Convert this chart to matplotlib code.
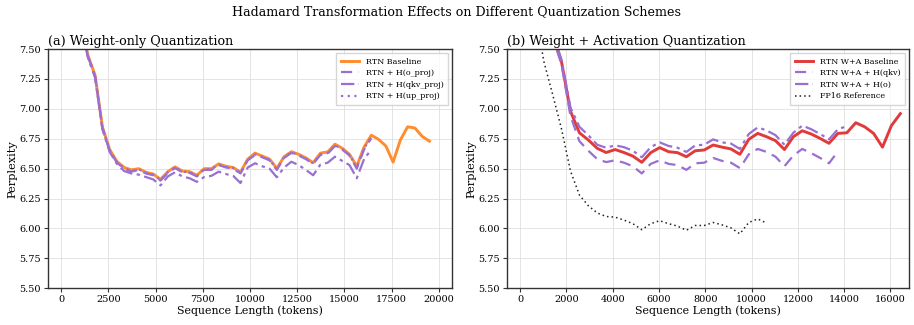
import matplotlib
matplotlib.use('Agg')
import matplotlib.pyplot as plt

plt.rcParams['font.family'] = 'DejaVu Serif'

# sequence lengths (tokens), shared x grid
seq_len = [642, 1027, 1412, 1797, 2182, 2567, 2952, 3337, 3722, 4107, 4492, 4877,
           5262, 5647, 6032, 6417, 6802, 7187, 7572, 7957, 8342, 8727, 9112, 9497,
           9882, 10267, 10652, 11037, 11422, 11807, 12192, 12577, 12962, 13347,
           13732, 14117, 14502, 14887, 15272, 15657, 16042, 16427, 16812, 17197,
           17582, 17967, 18352, 18737, 19122, 19507]

# (a) weight-only
rtn_base = [7.75, 7.45, 7.28, 6.85, 6.66, 6.56, 6.51, 6.49, 6.50, 6.47, 6.455, 6.41,
            6.475, 6.515, 6.48, 6.475, 6.445, 6.50, 6.50, 6.54, 6.52, 6.51, 6.47,
            6.58, 6.63, 6.605, 6.58, 6.503, 6.60, 6.642, 6.62, 6.59, 6.55, 6.63,
            6.64, 6.705, 6.67, 6.62, 6.52, 6.68, 6.78, 6.745, 6.69, 6.555, 6.74,
            6.85, 6.84, 6.77, 6.73]
h_oproj = [7.74, 7.44, 7.27, 6.84, 6.65, 6.55, 6.50, 6.475, 6.49, 6.46, 6.445, 6.40,
           6.465, 6.505, 6.47, 6.465, 6.435, 6.49, 6.49, 6.53, 6.51, 6.50, 6.46,
           6.57, 6.615, 6.595, 6.57, 6.49, 6.59, 6.632, 6.61, 6.58, 6.54, 6.615,
           6.625, 6.69, 6.66, 6.61, 6.50, 6.66, 6.755]
h_qkv = [7.73, 7.43, 7.26, 6.83, 6.64, 6.54, 6.48, 6.46, 6.45, 6.43, 6.41, 6.36,
         6.435, 6.47, 6.435, 6.42, 6.39, 6.43, 6.44, 6.475, 6.455, 6.44, 6.38,
         6.51, 6.545, 6.52, 6.50, 6.428, 6.51, 6.558, 6.53, 6.49, 6.445, 6.535,
         6.55, 6.60, 6.565, 6.53, 6.42, 6.58, 6.66]
h_upproj = [7.745, 7.445, 7.275, 6.845, 6.655, 6.555, 6.505, 6.48, 6.495, 6.465,
            6.45, 6.405, 6.47, 6.51, 6.475, 6.47, 6.44, 6.495, 6.495, 6.535, 6.515,
            6.505, 6.465, 6.575, 6.62, 6.60, 6.575, 6.495, 6.595, 6.637, 6.615,
            6.585, 6.545, 6.62, 6.63, 6.695, 6.665, 6.615, 6.51, 6.67, 6.765]

# (b) weight + activation
wa_base = [8.0, 7.62, 7.39, 6.98, 6.80, 6.74, 6.67, 6.635, 6.66, 6.635, 6.605, 6.553,
           6.634, 6.676, 6.642, 6.634, 6.60, 6.65, 6.656, 6.698, 6.68, 6.665, 6.62,
           6.745, 6.795, 6.767, 6.734, 6.66, 6.767, 6.817, 6.79, 6.753, 6.712,
           6.795, 6.80, 6.884, 6.85, 6.795, 6.68, 6.86, 6.96]
wa_hqkv = [7.95, 7.60, 7.37, 6.94, 6.73, 6.65, 6.58, 6.555, 6.57, 6.55, 6.52, 6.46,
           6.54, 6.57, 6.54, 6.53, 6.49, 6.545, 6.55, 6.59, 6.565, 6.55, 6.505,
           6.62, 6.665, 6.64, 6.60, 6.52, 6.61, 6.665, 6.63, 6.59, 6.545, 6.645]
wa_ho = [8.02, 7.64, 7.41, 7.01, 6.85, 6.78, 6.70, 6.675, 6.695, 6.68, 6.65, 6.595,
         6.68, 6.72, 6.69, 6.675, 6.64, 6.695, 6.70, 6.745, 6.72, 6.71, 6.665,
         6.79, 6.845, 6.82, 6.78, 6.70, 6.80, 6.86, 6.83, 6.79, 6.745, 6.83, 6.855]
fp16 = [7.85, 7.40, 7.12, 6.83, 6.48, 6.28, 6.19, 6.13, 6.10, 6.095, 6.07, 6.04,
        5.99, 6.04, 6.065, 6.04, 6.02, 5.985, 6.025, 6.025, 6.05, 6.03, 6.005,
        5.955, 6.05, 6.08, 6.045]

orange = '#ff8c2e'
purple = '#9a6fd2'
red = '#e23a3a'

fig = plt.figure(figsize=(9.14, 3.25), dpi=100)
ax1 = fig.add_axes([0.0525, 0.113, 0.442, 0.736])
ax2 = fig.add_axes([0.5547, 0.113, 0.4398, 0.736])

x = seq_len[1:]
ax1.plot(x, rtn_base, color=orange, lw=2.1, label='RTN Baseline')
ax1.plot(x[:len(h_oproj)], h_oproj, color=purple, lw=1.6, ls=(0, (5, 3)), label='RTN + H(o_proj)')
ax1.plot(x[:len(h_qkv)], h_qkv, color=purple, lw=1.6, ls=(0, (6, 2, 1.5, 2)), label='RTN + H(qkv_proj)')
ax1.plot(x[:len(h_upproj)], h_upproj, color=purple, lw=1.6, ls=(0, (1, 2)), label='RTN + H(up_proj)')
ax1.set_xlim(-700, 20700)
ax1.set_xticks([0, 2500, 5000, 7500, 10000, 12500, 15000, 17500, 20000])
ax1.set_title('(a) Weight-only Quantization', loc='left', fontsize=9.2, pad=3)

ax2.plot(x[:len(wa_base)], wa_base, color=red, lw=2.1, label='RTN W+A Baseline')
ax2.plot(x[:len(wa_hqkv)], wa_hqkv, color=purple, lw=1.6, ls=(0, (5, 3)), label='RTN W+A + H(qkv)')
ax2.plot(x[:len(wa_ho)], wa_ho, color=purple, lw=1.6, ls=(0, (6, 2, 1.5, 2)), label='RTN W+A + H(o)')
ax2.plot(seq_len[:len(fp16)], fp16, color='#222222', lw=1.1, ls=(0, (1, 2)), label='FP16 Reference')
ax2.set_xlim(-560, 16800)
ax2.set_xticks([0, 2000, 4000, 6000, 8000, 10000, 12000, 14000, 16000])
ax2.set_title('(b) Weight + Activation Quantization', loc='left', fontsize=9.2, pad=3)

for ax in (ax1, ax2):
    ax.set_ylim(5.5, 7.5)
    ax.set_yticks([5.5, 5.75, 6.0, 6.25, 6.5, 6.75, 7.0, 7.25, 7.5])
    ax.set_yticklabels(['%.2f' % v for v in ax.get_yticks()])
    ax.grid(True, color='#dddddd', lw=0.7, alpha=0.8)
    ax.set_axisbelow(True)
    ax.tick_params(labelsize=7, length=3, width=0.8, color='#333333', pad=2)
    for s in ax.spines.values():
        s.set_color('#333333')
        s.set_linewidth(1.0)
    ax.set_xlabel('Sequence Length (tokens)', fontsize=7.9, labelpad=1)
    ax.set_ylabel('Perplexity', fontsize=8.2, labelpad=1)
    ax.legend(loc='upper right', fontsize=5.8, frameon=True, fancybox=False,
              edgecolor='#cccccc', handlelength=2.3, borderpad=0.55, labelspacing=0.45)

fig.suptitle('Hadamard Transformation Effects on Different Quantization Schemes',
             fontsize=9.1, y=0.985)

fig.savefig('out.png', dpi=100)
